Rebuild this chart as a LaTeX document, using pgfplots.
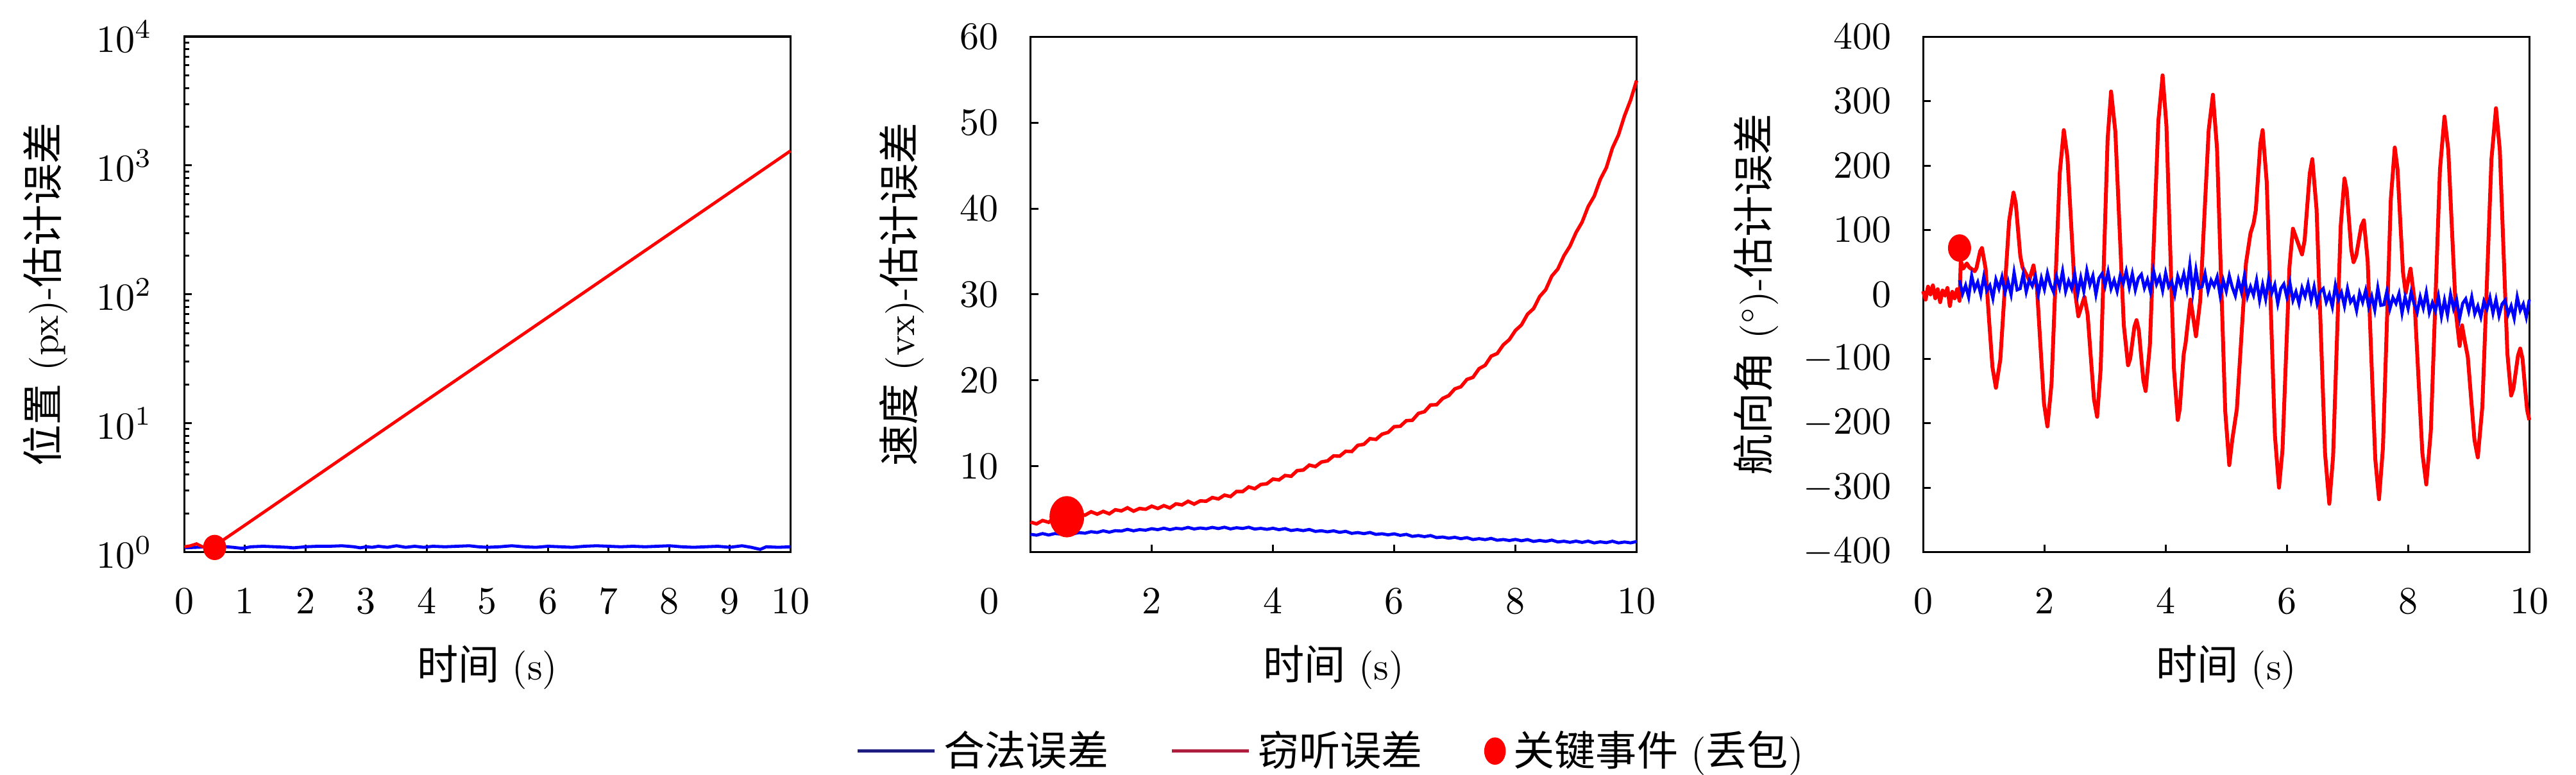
\documentclass[border=0pt]{standalone}
\usepackage{fontspec}
\usepackage{pgfplots}
\usepackage{pgfplotstable}
\pgfplotsset{compat=1.18}
\newfontfamily\cjk[Scale=1.07]{Noto Sans CJK SC}
\definecolor{legblue}{RGB}{30,30,130}
\definecolor{legred}{RGB}{175,30,60}

\pgfplotstableread{
x y
0.60 22
0.65 1
0.70 14
0.75 -4
0.80 29
0.85 8
0.90 19
0.95 0
1.00 27
1.05 6
1.10 14
1.15 -6
1.20 23
1.25 9
1.30 27
1.35 3
1.40 20
1.45 0
1.50 34
1.55 7
1.60 9
1.65 31
1.70 4
1.75 22
1.80 13
1.85 28
1.90 0
1.95 25
2.00 8
2.05 33
2.10 15
2.15 4
2.20 28
2.25 11
2.30 36
2.35 5
2.40 21
2.45 9
2.50 32
2.55 1
2.60 26
2.65 5
2.70 37
2.75 15
2.80 29
2.85 0
2.90 25
2.95 32
3.00 13
3.05 35
3.10 9
3.15 22
3.20 5
3.25 29
3.30 17
3.35 36
3.40 11
3.45 32
3.50 7
3.55 25
3.60 31
3.65 10
3.70 23
3.75 4
3.80 37
3.85 16
3.90 27
3.95 6
4.00 33
4.05 12
4.10 20
4.15 0
4.20 28
4.25 14
4.30 32
4.35 8
4.40 46
4.45 4
4.50 38
4.55 10
4.60 12
4.65 32
4.70 5
4.75 22
4.80 13
4.85 27
4.90 -2
4.95 22
5.00 5
5.05 29
5.10 11
5.15 -2
5.20 22
5.25 4
5.30 29
5.35 -3
5.40 12
5.45 -1
5.50 22
5.55 -9
5.60 15
5.65 -7
5.70 24
5.75 2
5.80 15
5.85 -14
5.90 9
5.95 16
6.00 -4
6.05 18
6.10 -9
6.15 4
6.20 -14
6.25 10
6.30 -3
6.35 16
6.40 -9
6.45 12
6.50 -14
6.55 4
6.60 9
6.65 -12
6.70 0
6.75 -19
6.80 14
6.85 -8
6.90 3
6.95 -18
7.00 9
7.05 -12
7.10 -5
7.15 -25
7.20 2
7.25 -12
7.30 6
7.35 -19
7.40 -3
7.45 -24
7.50 10
7.55 -17
7.60 -16
7.65 5
7.70 -22
7.75 -5
7.80 -14
7.85 1
7.90 -29
7.95 -4
8.00 -22
8.05 3
8.10 -15
8.15 -28
8.20 -4
8.25 -21
8.30 3
8.35 -28
8.40 -13
8.45 -26
8.50 -3
8.55 -34
8.60 -9
8.65 -32
8.70 0
8.75 -22
8.80 -8
8.85 -37
8.90 -14
8.95 -7
9.00 -26
9.05 -4
9.10 -30
9.15 -18
9.20 -35
9.25 -11
9.30 -23
9.35 -5
9.40 -29
9.45 -8
9.50 -33
9.55 -15
9.60 -9
9.65 -31
9.70 -18
9.75 -37
9.80 -4
9.85 -25
9.90 -15
9.95 -35
10.00 -8
}\headblue

\pgfplotstableread{
x y
0.00 5
0.04 -8
0.08 12
0.12 0
0.16 14
0.20 -6
0.24 8
0.28 -12
0.32 6
0.36 -2
0.40 10
0.44 -18
0.48 4
0.52 -6
0.56 8
0.60 -10
0.62 52
0.66 40
0.72 48
0.76 42
0.85 36
0.88 41
0.91 54
0.94 67
0.97 72
1.03 40
1.085 -37
1.143 -113
1.20 -145
1.273 -101
1.345 7
1.418 114
1.49 158
1.528 141
1.565 100
1.603 59
1.64 42
1.695 32
1.75 22
1.82 45
1.878 9
1.935 -80
1.993 -169
2.05 -205
2.118 -138
2.185 25
2.253 188
2.32 255
2.38 213
2.44 111
2.50 8
2.56 -34
2.61 -19
2.66 -4
2.713 -31
2.765 -97
2.818 -163
2.87 -190
2.928 -116
2.985 63
3.043 241
3.10 315
3.17 253
3.24 103
3.31 -48
3.38 -110
3.415 -100
3.45 -75
3.485 -50
3.52 -40
3.558 -56
3.595 -95
3.633 -134
3.67 -150
3.74 -79
3.81 95
3.88 269
3.95 340
4.013 262
4.075 73
4.138 -117
4.20 -195
4.233 -178
4.265 -135
4.298 -93
4.33 -75
4.37 -41
4.41 -8
4.455 -36
4.50 -65
4.57 -10
4.64 123
4.71 255
4.78 310
4.848 226
4.915 23
4.983 -181
5.05 -265
5.10 -225
5.175 -178
5.25 -65
5.325 48
5.40 95
5.45 110
5.488 131
5.525 183
5.563 234
5.60 255
5.668 174
5.735 -23
5.803 -219
5.87 -300
5.928 -241
5.985 -99
6.043 43
6.10 102
6.175 82
6.25 62
6.293 84
6.335 136
6.378 188
6.42 210
6.49 132
6.56 -58
6.63 -247
6.70 -325
6.763 -251
6.825 -73
6.888 106
6.95 180
6.988 161
7.025 115
7.063 69
7.10 50
7.143 60
7.185 83
7.228 106
7.27 115
7.333 52
7.395 -102
7.458 -255
7.52 -318
7.585 -238
7.65 -45
7.715 148
7.78 228
7.825 195
7.87 115
7.915 35
7.96 2
8.00 21
8.04 40
8.105 -9
8.17 -128
8.235 -246
8.30 -295
8.375 -212
8.45 -10
8.525 193
8.60 276
8.663 224
8.725 98
8.788 -28
8.85 -80
8.89 -48
8.93 -70
8.985 -97
9.04 -162
9.095 -226
9.15 -253
9.225 -174
9.30 18
9.375 210
9.45 289
9.513 224
9.575 66
9.638 -92
9.70 -157
9.738 -146
9.775 -121
9.813 -95
9.85 -84
9.888 -100
9.925 -140
9.963 -179
10.00 -195
}\headred

\pgfplotsset{
  myax/.style={
    width=157.5pt, height=133.9pt, scale only axis,
    anchor=south west,
    xmin=0, xmax=10,
    tick pos=left, tick align=inside,
    major tick length=2pt, minor tick length=1.2pt,
    tick style={black, line width=0.5pt},
    axis line style={line width=0.55pt},
    xticklabel style={yshift=-6pt},
    yticklabel style={xshift=-4.8pt},
    xlabel style={at={(axis description cs:0.5,-0.223)}, anchor=center},
    xlabel={{\cjk 时间} (s)},
    clip=false,
  },
  legend image code/.code={\draw[#1] (0pt,0pt) -- (20pt,0pt);},
}

\begin{document}
\begin{tikzpicture}
\useasboundingbox (0,0) rectangle (669.33pt,201.33pt);

% Panel 1
\begin{axis}[myax, at={(47.9pt,57.9pt)},
  ymode=log, ymin=1, ymax=10000,
  xtick={0,1,2,3,4,5,6,7,8,9,10},
  ylabel={{\cjk 位置} (px)-{\cjk 估计误差}},
  ylabel style={at={(axis description cs:-0.229,0.5)}, anchor=center},
]
\addplot[blue, line width=0.8pt] coordinates {
(0,1.08)(0.2,1.09)(0.4,1.10)(0.6,1.11)(0.8,1.09)(0.95,1.07)(1.1,1.10)(1.3,1.11)(1.5,1.10)(1.7,1.09)(1.8,1.08)(2.0,1.10)(2.2,1.11)(2.4,1.11)(2.6,1.12)(2.8,1.10)(2.9,1.08)(3.0,1.10)(3.1,1.09)(3.2,1.11)(3.35,1.09)(3.5,1.12)(3.65,1.09)(3.8,1.11)(3.95,1.09)(4.1,1.11)(4.3,1.10)(4.5,1.11)(4.7,1.12)(4.85,1.10)(5.0,1.09)(5.2,1.10)(5.4,1.12)(5.6,1.10)(5.8,1.09)(6.0,1.11)(6.2,1.10)(6.4,1.09)(6.6,1.11)(6.8,1.12)(7.0,1.11)(7.2,1.10)(7.4,1.11)(7.6,1.10)(7.8,1.11)(8.0,1.12)(8.2,1.10)(8.4,1.09)(8.6,1.10)(8.8,1.11)(9.0,1.09)(9.2,1.12)(9.35,1.09)(9.5,1.05)(9.6,1.10)(9.8,1.09)(10.0,1.10)
};
\addplot[red, line width=0.8pt] coordinates {
(0,1.10)(0.1,1.12)(0.2,1.16)(0.3,1.10)(0.4,1.08)(0.5,1.12)(1,1.62)(2,3.41)(3,7.18)(4,15.1)(5,31.7)(6,66.6)(7,140)(8,294)(9,618)(10,1300)
};
\addplot[only marks, mark=*, mark size=2.8pt, mark options={fill=red, draw=red, yscale=1.1}] coordinates {(0.5,1.087)};
\end{axis}

% Panel 2
\begin{axis}[myax, at={(267.75pt,57.9pt)},
  ymin=0, ymax=60,
  xtick={2,4,6,8,10}, ytick={10,20,30,40,50,60},
  ylabel={{\cjk 速度} (vx)-{\cjk 估计误差}},
  ylabel style={at={(axis description cs:-0.212,0.5)}, anchor=center},
  legend columns=3,
  legend cell align=left,
  legend style={at={(axis description cs:0.5,-0.386)}, anchor=center, draw=none, fill=none,
    /tikz/every even column/.append style={column sep=14pt}},
]
\addlegendimage{legblue, line width=0.8pt}
\addlegendentry{\cjk 合法误差}
\addlegendimage{legred, line width=0.8pt}
\addlegendentry{\cjk 窃听误差}
\addlegendimage{legend image code/.code={\fill[red] (2.6pt,0pt) ellipse [x radius=2.6pt, y radius=3.35pt];}}
\addlegendentry{{\cjk 关键事件} ({\cjk 丢包})}
\addplot[blue, line width=0.8pt, forget plot] coordinates {
(0.0,2.08)(0.1,1.97)(0.2,2.16)(0.3,1.99)(0.4,2.16)(0.5,2.10)(0.6,2.30)(0.7,2.13)(0.8,2.27)(0.9,2.20)
(1.0,2.38)(1.1,2.28)(1.2,2.48)(1.3,2.32)(1.4,2.50)(1.5,2.45)(1.6,2.65)(1.7,2.48)(1.8,2.62)(1.9,2.55)
(2.0,2.73)(2.1,2.61)(2.2,2.79)(2.3,2.61)(2.4,2.77)(2.5,2.70)(2.6,2.88)(2.7,2.69)(2.8,2.81)(2.9,2.72)
(3.0,2.88)(3.1,2.74)(3.2,2.90)(3.3,2.70)(3.4,2.84)(3.5,2.75)(3.6,2.90)(3.7,2.68)(3.8,2.77)(3.9,2.65)
(4.0,2.78)(4.1,2.61)(4.2,2.74)(4.3,2.51)(4.4,2.62)(4.5,2.50)(4.6,2.64)(4.7,2.41)(4.8,2.49)(4.9,2.36)
(5.0,2.48)(5.1,2.30)(5.2,2.42)(5.3,2.18)(5.4,2.28)(5.5,2.15)(5.6,2.29)(5.7,2.06)(5.8,2.14)(5.9,2.01)
(6.0,2.13)(6.1,1.95)(6.2,2.07)(6.3,1.83)(6.4,1.93)(6.5,1.80)(6.6,1.93)(6.7,1.69)(6.8,1.76)(6.9,1.62)
(7.0,1.73)(7.1,1.56)(7.2,1.69)(7.3,1.46)(7.4,1.57)(7.5,1.45)(7.6,1.60)(7.7,1.38)(7.8,1.47)(7.9,1.35)
(8.0,1.48)(8.1,1.32)(8.2,1.46)(8.3,1.24)(8.4,1.36)(8.5,1.25)(8.6,1.40)(8.7,1.18)(8.8,1.27)(8.9,1.14)
(9.0,1.28)(9.1,1.13)(9.2,1.28)(9.3,1.07)(9.4,1.20)(9.5,1.10)(9.6,1.27)(9.7,1.07)(9.8,1.18)(9.9,1.08)(10.0,1.23)
};
\addplot[red, line width=0.9pt, forget plot] coordinates {
(0.0,3.50)(0.1,3.29)(0.2,3.68)(0.3,3.47)(0.4,4.01)(0.5,3.95)(0.6,4.35)(0.7,4.00)(0.8,4.35)(0.9,4.30)
(1.0,4.70)(1.1,4.42)(1.2,4.74)(1.3,4.46)(1.4,4.93)(1.5,4.80)(1.6,5.16)(1.7,4.77)(1.8,5.08)(1.9,4.99)
(2.0,5.35)(2.1,5.08)(2.2,5.41)(2.3,5.14)(2.4,5.62)(2.5,5.50)(2.6,5.92)(2.7,5.59)(2.8,5.96)(2.9,5.93)
(3.0,6.35)(3.1,6.19)(3.2,6.63)(3.3,6.47)(3.4,7.06)(3.5,7.05)(3.6,7.59)(3.7,7.38)(3.8,7.87)(3.9,7.96)
(4.0,8.50)(4.1,8.41)(4.2,8.92)(4.3,8.83)(4.4,9.49)(4.5,9.55)(4.6,10.13)(4.7,9.96)(4.8,10.49)(4.9,10.62)
(5.0,11.20)(5.1,11.17)(5.2,11.74)(5.3,11.71)(5.4,12.43)(5.5,12.55)(5.6,13.21)(5.7,13.12)(5.8,13.73)(5.9,13.94)
(6.0,14.60)(6.1,14.65)(6.2,15.30)(6.3,15.35)(6.4,16.15)(6.5,16.35)(6.6,17.13)(6.7,17.16)(6.8,17.89)(6.9,18.22)
(7.0,19.00)(7.1,19.25)(7.2,20.10)(7.3,20.35)(7.4,21.35)(7.5,21.75)(7.6,22.81)(7.7,23.12)(7.8,24.13)(7.9,24.74)
(8.0,25.80)(8.1,26.45)(8.2,27.70)(8.3,28.35)(8.4,29.75)(8.5,30.55)(8.6,32.13)(8.7,32.96)(8.8,34.49)(8.9,35.62)
(9.0,37.20)(9.1,38.41)(9.2,40.22)(9.3,41.43)(9.4,43.39)(9.5,44.75)(9.6,47.03)(9.7,48.56)(9.8,50.79)(9.9,52.62)(10.0,54.90)
};
\addplot[only marks, mark=*, mark size=4.3pt, mark options={fill=red, draw=red, yscale=1.2}, forget plot] coordinates {(0.6,4.12)};
\end{axis}
\node[anchor=north, inner sep=0.333em, yshift=-6pt] at (257.1pt,57.9pt) {$0$};

% Panel 3
\begin{axis}[myax, at={(499.7pt,57.9pt)},
  ymin=-400, ymax=400,
  xtick={0,2,4,6,8,10}, ytick={-400,-300,-200,-100,0,100,200,300,400},
  ylabel={{\cjk 航向角} ($^{\circ}$)-{\cjk 估计误差}},
  ylabel style={at={(axis description cs:-0.276,0.5)}, anchor=center},
]
\addplot[red, line width=1pt, line join=round] table[x=x, y=y] {\headred};
\addplot[blue, line width=0.8pt] table[x=x, y=y] {\headblue};
\addplot[only marks, mark=*, mark size=2.8pt, mark options={fill=red, draw=red, yscale=1.2}] coordinates {(0.6,72)};
\end{axis}
\end{tikzpicture}
\end{document}
